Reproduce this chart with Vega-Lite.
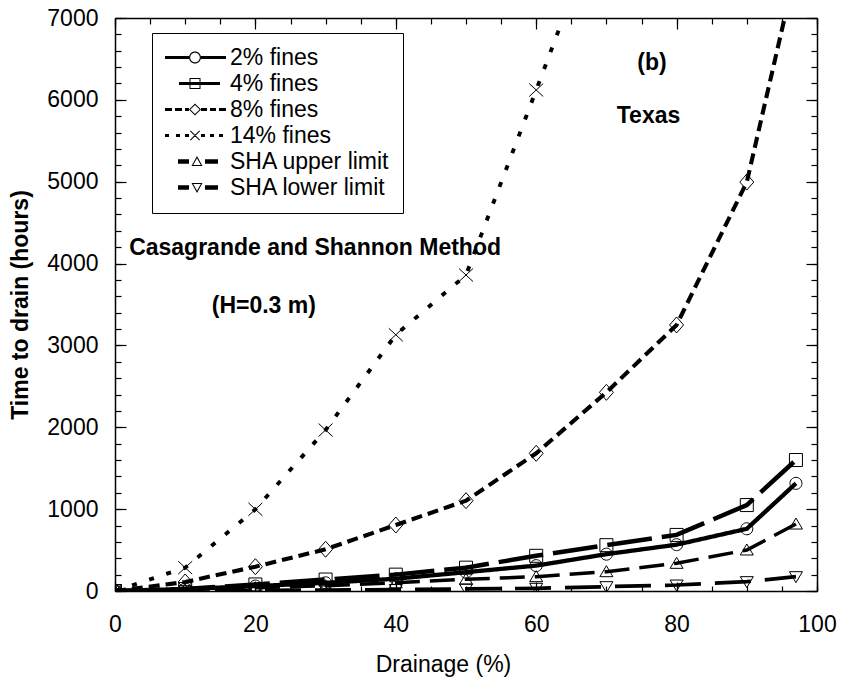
{
  "$schema": "https://vega.github.io/schema/vega-lite/v6.json",
  "width": 702,
  "height": 573,
  "autosize": "none",
  "padding": {"left": 115, "top": 18, "right": 24, "bottom": 87},
  "background": "white",
  "config": {
    "font": "Liberation Sans",
    "view": {"stroke": null},
    "axis": {"grid": false, "domainColor": "black", "domainWidth": 1.5, "tickColor": "black", "tickWidth": 1.2, "gridColor": "black", "gridWidth": 1.2, "gridOpacity": 1, "labelColor": "black", "titleColor": "black", "labelFont": "Liberation Sans", "titleFont": "Liberation Sans"}
  },
  "datasets": {
    "series": [
      {"series": "2% fines", "x": 0, "y": 0}, {"series": "2% fines", "x": 10, "y": 25}, {"series": "2% fines", "x": 20, "y": 60}, {"series": "2% fines", "x": 30, "y": 100}, {"series": "2% fines", "x": 40, "y": 150}, {"series": "2% fines", "x": 50, "y": 230}, {"series": "2% fines", "x": 60, "y": 310}, {"series": "2% fines", "x": 70, "y": 450}, {"series": "2% fines", "x": 80, "y": 566}, {"series": "2% fines", "x": 90, "y": 760}, {"series": "2% fines", "x": 97, "y": 1315},
      {"series": "4% fines", "x": 0, "y": 0}, {"series": "4% fines", "x": 10, "y": 25}, {"series": "4% fines", "x": 20, "y": 80}, {"series": "4% fines", "x": 30, "y": 140}, {"series": "4% fines", "x": 40, "y": 200}, {"series": "4% fines", "x": 50, "y": 285}, {"series": "4% fines", "x": 60, "y": 430}, {"series": "4% fines", "x": 70, "y": 560}, {"series": "4% fines", "x": 80, "y": 685}, {"series": "4% fines", "x": 90, "y": 1050}, {"series": "4% fines", "x": 97, "y": 1600},
      {"series": "8% fines", "x": 0, "y": 0}, {"series": "8% fines", "x": 10, "y": 110}, {"series": "8% fines", "x": 20, "y": 297}, {"series": "8% fines", "x": 30, "y": 510}, {"series": "8% fines", "x": 40, "y": 806}, {"series": "8% fines", "x": 50, "y": 1103}, {"series": "8% fines", "x": 60, "y": 1682}, {"series": "8% fines", "x": 70, "y": 2427}, {"series": "8% fines", "x": 80, "y": 3250}, {"series": "8% fines", "x": 90, "y": 4996}, {"series": "8% fines", "x": 97, "y": 7600},
      {"series": "14% fines", "x": 0, "y": 0}, {"series": "14% fines", "x": 10, "y": 285}, {"series": "14% fines", "x": 20, "y": 998}, {"series": "14% fines", "x": 30, "y": 1967}, {"series": "14% fines", "x": 40, "y": 3130}, {"series": "14% fines", "x": 50, "y": 3860}, {"series": "14% fines", "x": 60, "y": 6120}, {"series": "14% fines", "x": 70, "y": 8400},
      {"series": "SHA upper limit", "x": 0, "y": 0}, {"series": "SHA upper limit", "x": 10, "y": 15}, {"series": "SHA upper limit", "x": 20, "y": 40}, {"series": "SHA upper limit", "x": 30, "y": 65}, {"series": "SHA upper limit", "x": 40, "y": 100}, {"series": "SHA upper limit", "x": 50, "y": 143}, {"series": "SHA upper limit", "x": 60, "y": 175}, {"series": "SHA upper limit", "x": 70, "y": 236}, {"series": "SHA upper limit", "x": 80, "y": 338}, {"series": "SHA upper limit", "x": 90, "y": 501}, {"series": "SHA upper limit", "x": 97, "y": 818},
      {"series": "SHA lower limit", "x": 0, "y": 0}, {"series": "SHA lower limit", "x": 10, "y": 4}, {"series": "SHA lower limit", "x": 20, "y": 8}, {"series": "SHA lower limit", "x": 30, "y": 12}, {"series": "SHA lower limit", "x": 40, "y": 18}, {"series": "SHA lower limit", "x": 50, "y": 25}, {"series": "SHA lower limit", "x": 60, "y": 33}, {"series": "SHA lower limit", "x": 70, "y": 53}, {"series": "SHA lower limit", "x": 80, "y": 73}, {"series": "SHA lower limit", "x": 90, "y": 114}, {"series": "SHA lower limit", "x": 97, "y": 175}
    ],
    "notes": [
      {"label": "Casagrande and Shannon Method", "x": 28.5, "y": 4190},
      {"label": "(H=0.3 m)", "x": 21.2, "y": 3480},
      {"label": "(b)", "x": 76.5, "y": 6456},
      {"label": "Texas", "x": 76, "y": 5800}
    ]
  },
  "data": {"name": "series"},
  "resolve": {"axis": {"x": "independent", "y": "independent"}, "scale": {"shape": "independent"}},
  "layer": [
    {
      "mark": {"type": "line", "clip": true, "color": "black"},
      "encoding": {
        "x": {"field": "x", "type": "quantitative", "scale": {"domain": [0, 100], "nice": false, "zero": false},
          "axis": {"orient": "bottom", "values": [0, 20, 40, 60, 80, 100], "ticks": false, "labelPadding": 22, "labelFontSize": 23, "title": "Drainage (%)", "titleFontSize": 23, "titleFontWeight": "normal", "titleX": 328, "titleY": 73, "titleBaseline": "middle", "labelFlush": false}},
        "y": {"field": "y", "type": "quantitative", "scale": {"domain": [0, 7000], "nice": false},
          "axis": {"orient": "left", "values": [0, 1000, 2000, 3000, 4000, 5000, 6000, 7000], "format": "d", "ticks": false, "labelPadding": 17, "labelFontSize": 23, "title": "Time to drain (hours)", "titleFontSize": 23, "titleFontWeight": "bold", "titleX": -95, "titleBaseline": "middle", "labelFlush": false}},
        "detail": {"field": "series"},
        "strokeDash": {"field": "series", "type": "nominal", "legend": null,
          "scale": {"domain": ["SHA lower limit", "SHA upper limit", "14% fines", "8% fines", "4% fines", "2% fines"],
            "range": [[36, 14], [25, 10], [5, 13], [11, 6], [45, 10], [1, 0]]}},
        "strokeWidth": {"field": "series", "type": "nominal", "legend": null,
          "scale": {"domain": ["4% fines", "2% fines", "8% fines", "14% fines", "SHA lower limit", "SHA upper limit"],
            "range": [4.5, 3.5, 5, 5, 6, 6]}}
      }
    },
    {
      "mark": {"type": "point", "clip": true, "filled": false, "color": "black", "strokeWidth": 1, "opacity": 1, "size": 4},
      "encoding": {
        "x": {"field": "x", "type": "quantitative", "axis": {"orient": "bottom", "values": [0, 20, 40, 60, 80, 100], "grid": true, "gridDash": [11, 3000], "ticks": false, "labels": false, "title": null, "domain": false}},
        "y": {"field": "y", "type": "quantitative", "axis": {"orient": "left", "values": [0, 1000, 2000, 3000, 4000, 5000, 6000, 7000], "grid": true, "gridDash": [11, 3000], "ticks": false, "labels": false, "title": null, "domain": false}},
        "shape": {"field": "series", "type": "nominal", "legend": null,
          "scale": {"domain": ["SHA lower limit", "2% fines", "4% fines", "8% fines", "14% fines", "SHA upper limit"],
            "range": ["M-6.5,-5H6.5L0,6Z", "M-6,0A6,6 0 1,1 6,0A6,6 0 1,1 -6,0Z", "M-6.5,-6.5H6.5V6.5H-6.5Z", "M0,-8L7,0L0,8L-7,0Z", "M-7,-6.5L7,6.5M-7,6.5L7,-6.5", "M0,-6L6.5,5H-6.5Z"]}}
      }
    },
    {
      "mark": {"type": "point", "filled": true, "color": "black", "opacity": 0, "size": 4},
      "encoding": {
        "x": {"field": "x", "type": "quantitative", "axis": null},
        "y": {"field": "y", "type": "quantitative", "axis": null},
        "shape": {"field": "series", "type": "nominal",
          "scale": {"domain": ["2% fines", "4% fines", "8% fines", "14% fines", "SHA upper limit", "SHA lower limit"],
            "range": [
              "M-11.5,-1.5H12.5V1.5H-11.5Z M24.5,-1.5H49.5V1.5H24.5Z M12.5,0A6,6 0 1,1 24.5,0A6,6 0 1,1 12.5,0Z M13.7,0A4.8,4.8 0 1,0 23.3,0A4.8,4.8 0 1,0 13.7,0Z",
              "M2.5,-1.5H43.5V1.5H2.5Z M13,-5.5H24V5.5H13Z M14,-4.5V4.5H23V-4.5Z",
              "M-11.5,-1.5H-4.5V1.5H-11.5Z M-1.5,-1.5H5.5V1.5H-1.5Z M8.5,-1.5H12.5V1.5H8.5Z M24.5,-1.5H30.5V1.5H24.5Z M33.5,-1.5H39.5V1.5H33.5Z M42.5,-1.5H49.5V1.5H42.5Z M18.5,-6L24.5,0L18.5,6L12.5,0Z M18.5,-4.6L13.9,0L18.5,4.6L23.1,0Z",
              "M-11.5,-1.5H-7.5V1.5H-11.5Z M-0.5,-1.5H3.5V1.5H-0.5Z M8.5,-1.5H12.5V1.5H8.5Z M24.5,-1.5H28.5V1.5H24.5Z M33.5,-1.5H37.5V1.5H33.5Z M42.5,-1.5H46.5V1.5H42.5Z M13.5,-4.3L14.2,-5L23.5,4.3L22.8,5Z M22.8,-5L23.5,-4.3L14.2,5L13.5,4.3Z",
              "M1.5,-2.25H12.5V2.25H1.5Z M28.5,-2.25H41.5V2.25H28.5Z M20.5,-5.5L26,4.5H15Z M20.5,-3.3L16.7,3.5H24.3Z",
              "M1.5,-2.25H12.5V2.25H1.5Z M28.5,-2.25H41.5V2.25H28.5Z M15,-4.5H26L20.5,5.5Z M16.7,-3.5L20.5,3.3L24.3,-3.5Z"
            ]},
          "legend": {
            "orient": "none", "legendX": 37, "legendY": 15, "title": null,
            "labelFontSize": 23, "labelFont": "Liberation Sans", "labelColor": "black",
            "symbolSize": 4, "symbolOpacity": 1, "symbolFillColor": "black", "symbolStrokeWidth": 0, "symbolStrokeColor": "transparent",
            "labelOffset": 42, "padding": 13, "rowPadding": 2,
            "strokeColor": "black", "fillColor": "white"
          }
        }
      }
    },
    {
      "mark": {"type": "point", "opacity": 0},
      "encoding": {
        "x": {"field": "x", "type": "quantitative", "axis": {"orient": "bottom", "values": [0,5,10,15,20,25,30,35,40,45,50,55,60,65,70,75,80,85,90,95,100], "grid": true, "gridDash": [6, 3000], "ticks": false, "labels": false, "title": null, "domain": false}},
        "y": {"field": "y", "type": "quantitative", "axis": {"orient": "left", "values": [0,200,400,600,800,1000,1200,1400,1600,1800,2000,2200,2400,2600,2800,3000,3200,3400,3600,3800,4000,4200,4400,4600,4800,5000,5200,5400,5600,5800,6000,6200,6400,6600,6800,7000], "grid": true, "gridDash": [6, 3000], "ticks": false, "labels": false, "title": null, "domain": false}}
      }
    },
    {
      "mark": {"type": "point", "opacity": 0},
      "encoding": {
        "x": {"field": "x", "type": "quantitative", "axis": {"orient": "top", "ticks": false, "labels": false, "title": null}},
        "y": {"field": "y", "type": "quantitative", "axis": {"orient": "right", "ticks": false, "labels": false, "title": null}}
      }
    },
    {
      "mark": {"type": "point", "opacity": 0},
      "encoding": {
        "x": {"field": "x", "type": "quantitative", "axis": {"orient": "top", "values": [0, 20, 40, 60, 80, 100], "grid": true, "gridDash": [9, 3000], "ticks": false, "labels": false, "title": null, "domain": false}},
        "y": {"field": "y", "type": "quantitative", "axis": {"orient": "right", "values": [0, 1000, 2000, 3000, 4000, 5000, 6000, 7000], "grid": true, "gridDash": [11, 3000], "ticks": false, "labels": false, "title": null, "domain": false}}
      }
    },
    {
      "mark": {"type": "point", "opacity": 0},
      "encoding": {
        "x": {"field": "x", "type": "quantitative", "axis": {"orient": "top", "values": [0,5,10,15,20,25,30,35,40,45,50,55,60,65,70,75,80,85,90,95,100], "grid": true, "gridDash": [5, 3000], "ticks": false, "labels": false, "title": null, "domain": false}},
        "y": {"field": "y", "type": "quantitative", "axis": {"orient": "right", "values": [0,200,400,600,800,1000,1200,1400,1600,1800,2000,2200,2400,2600,2800,3000,3200,3400,3600,3800,4000,4200,4400,4600,4800,5000,5200,5400,5600,5800,6000,6200,6400,6600,6800,7000], "grid": true, "gridDash": [6, 3000], "ticks": false, "labels": false, "title": null, "domain": false}}
      }
    },
    {
      "data": {"name": "notes"},
      "mark": {"type": "text", "font": "Liberation Sans", "fontWeight": "bold", "fontSize": 23, "color": "black", "align": "center", "baseline": "middle"},
      "encoding": {
        "x": {"field": "x", "type": "quantitative", "axis": null},
        "y": {"field": "y", "type": "quantitative", "axis": null},
        "text": {"field": "label"}
      }
    }
  ]
}
